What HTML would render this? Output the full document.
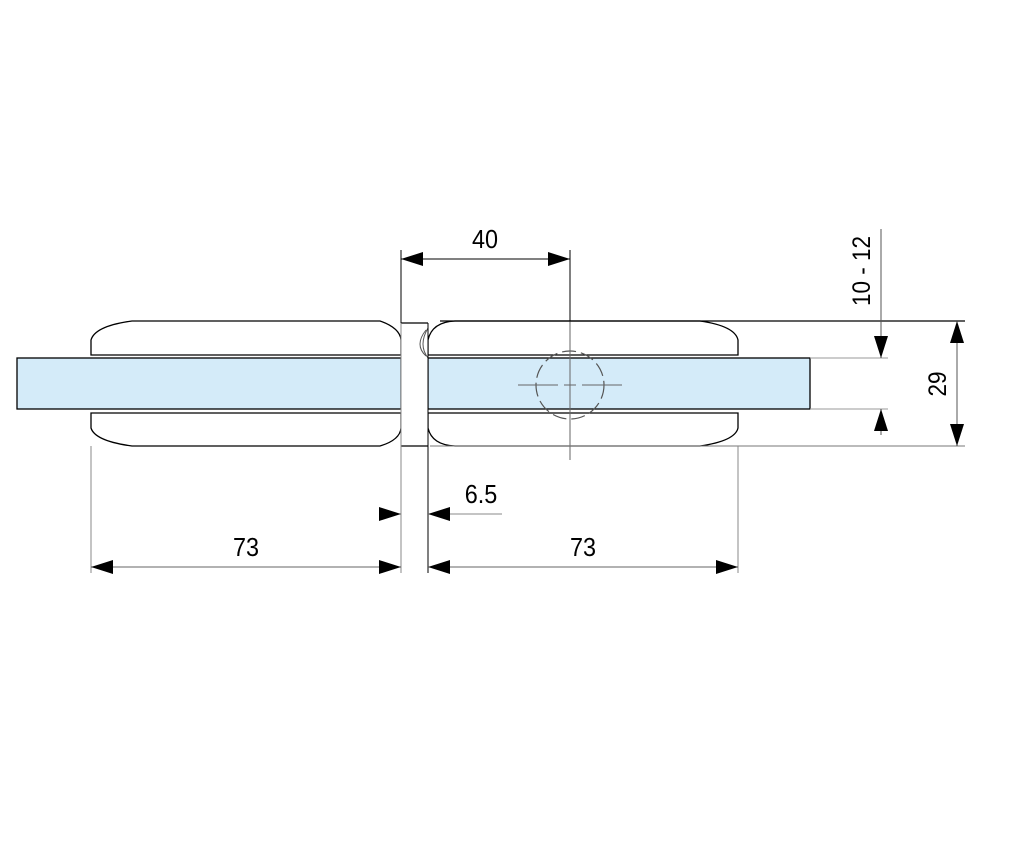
<!DOCTYPE html>
<html><head><meta charset="utf-8"><style>
html,body{margin:0;padding:0;background:#fff;}
svg{display:block;}
text{font-family:"Liberation Sans",sans-serif;fill:#000;}
</style></head><body>
<svg width="1025" height="860" viewBox="0 0 1025 860" xmlns="http://www.w3.org/2000/svg">
<defs>
<marker id="a" viewBox="0 0 22 14" refX="22" refY="7" markerWidth="22" markerHeight="14" markerUnits="userSpaceOnUse" orient="auto"><path d="M0,0 L22,7 L0,14 Z" fill="#000"/></marker>
</defs>
<!-- glass -->
<rect x="17" y="358" width="384" height="51" fill="#d4ebf9" stroke="#000" stroke-width="1.3"/>
<rect x="428" y="358" width="382" height="51" fill="#d4ebf9" stroke="#000" stroke-width="1.3"/>
<!-- top clamps -->
<path d="M91,355 L91,340 Q95,326 132,321 L380,321 Q400,328 401,340 L401,355 Z" fill="#fff" stroke="#000" stroke-width="1.3"/>
<path d="M428,355 L428,340 Q432,322 455,321 L700,321 Q735,326 738,340 L738,355 Z" fill="#fff" stroke="#000" stroke-width="1.3"/>
<!-- bottom clamps -->
<path d="M91,413 L91,428 Q95,441 132,446 L380,446 Q400,440 401,428 L401,413 Z" fill="#fff" stroke="#000" stroke-width="1.3"/>
<path d="M428,413 L428,428 Q432,445 455,446 L700,446 Q735,441 738,428 L738,413 Z" fill="#fff" stroke="#000" stroke-width="1.3"/>
<!-- hinge center -->
<rect x="401" y="323" width="27" height="123" fill="#fff" stroke="none"/>
<line x1="401" y1="323" x2="428" y2="323" stroke="#000" stroke-width="1.2"/>
<line x1="401" y1="446" x2="428" y2="446" stroke="#000" stroke-width="1.2"/>
<path d="M428,328 Q418,345 428,358" fill="none" stroke="#555" stroke-width="1"/>
<path d="M426,330 Q414,345 426,356" fill="none" stroke="#555" stroke-width="1"/>
<!-- dashed circle & center lines -->
<circle cx="570" cy="385" r="34" fill="none" stroke="#555" stroke-width="1.2" stroke-dasharray="14,5"/>
<line x1="570" y1="310" x2="570" y2="460" stroke="#666" stroke-width="1"/>
<line x1="518" y1="385" x2="622" y2="385" stroke="#666" stroke-width="1" stroke-dasharray="40,6,12,6"/>
<!-- extension lines right -->
<line x1="440" y1="321" x2="965" y2="321" stroke="#000" stroke-width="1.2"/>
<line x1="430" y1="446" x2="965" y2="446" stroke="#777" stroke-width="1"/>
<line x1="810" y1="358" x2="888" y2="358" stroke="#999" stroke-width="1"/>
<line x1="810" y1="409" x2="888" y2="409" stroke="#999" stroke-width="1"/>
<!-- 10-12 dim -->
<line x1="881" y1="229" x2="881" y2="358" stroke="#555" stroke-width="1" marker-end="url(#a)"/>
<line x1="881" y1="435" x2="881" y2="409" stroke="#555" stroke-width="1" marker-end="url(#a)"/>
<text transform="translate(870,271) rotate(-90) scale(0.9,1)" text-anchor="middle" font-size="25">10 - 12</text>
<!-- 29 dim -->
<line x1="957" y1="384" x2="957" y2="321" stroke="#555" stroke-width="1" marker-end="url(#a)"/>
<line x1="957" y1="384" x2="957" y2="446" stroke="#555" stroke-width="1" marker-end="url(#a)"/>
<text transform="translate(946,384) rotate(-90) scale(0.9,1)" text-anchor="middle" font-size="25">29</text>
<!-- 40 dim -->
<line x1="570" y1="250" x2="570" y2="321" stroke="#000" stroke-width="1"/>
<line x1="485" y1="259" x2="401" y2="259" stroke="#000" stroke-width="1" marker-end="url(#a)"/>
<line x1="485" y1="259" x2="570" y2="259" stroke="#000" stroke-width="1" marker-end="url(#a)"/>
<text transform="translate(485,248) scale(0.9,1)" text-anchor="middle" font-size="26">40</text>
<!-- vertical extension lines -->
<line x1="401" y1="250" x2="401" y2="323" stroke="#000" stroke-width="1"/>
<line x1="401" y1="323" x2="401" y2="573" stroke="#888" stroke-width="1"/>
<line x1="428" y1="323" x2="428" y2="573" stroke="#000" stroke-width="1"/>
<line x1="91" y1="446" x2="91" y2="573" stroke="#888" stroke-width="1"/>
<line x1="738" y1="446" x2="738" y2="573" stroke="#888" stroke-width="1"/>
<!-- 6.5 -->
<line x1="380" y1="514" x2="401" y2="514" stroke="#888" stroke-width="1" marker-end="url(#a)"/>
<line x1="502" y1="514" x2="428" y2="514" stroke="#888" stroke-width="1" marker-end="url(#a)"/>
<text transform="translate(481,503) scale(0.9,1)" text-anchor="middle" font-size="26">6.5</text>
<!-- 73 dims -->
<line x1="246" y1="567" x2="91" y2="567" stroke="#666" stroke-width="1" marker-end="url(#a)"/>
<line x1="246" y1="567" x2="401" y2="567" stroke="#666" stroke-width="1" marker-end="url(#a)"/>
<text transform="translate(246,556) scale(0.9,1)" text-anchor="middle" font-size="26">73</text>
<line x1="583" y1="567" x2="428" y2="567" stroke="#666" stroke-width="1" marker-end="url(#a)"/>
<line x1="583" y1="567" x2="738" y2="567" stroke="#666" stroke-width="1" marker-end="url(#a)"/>
<text transform="translate(583,556) scale(0.9,1)" text-anchor="middle" font-size="26">73</text>
</svg>
</body></html>
